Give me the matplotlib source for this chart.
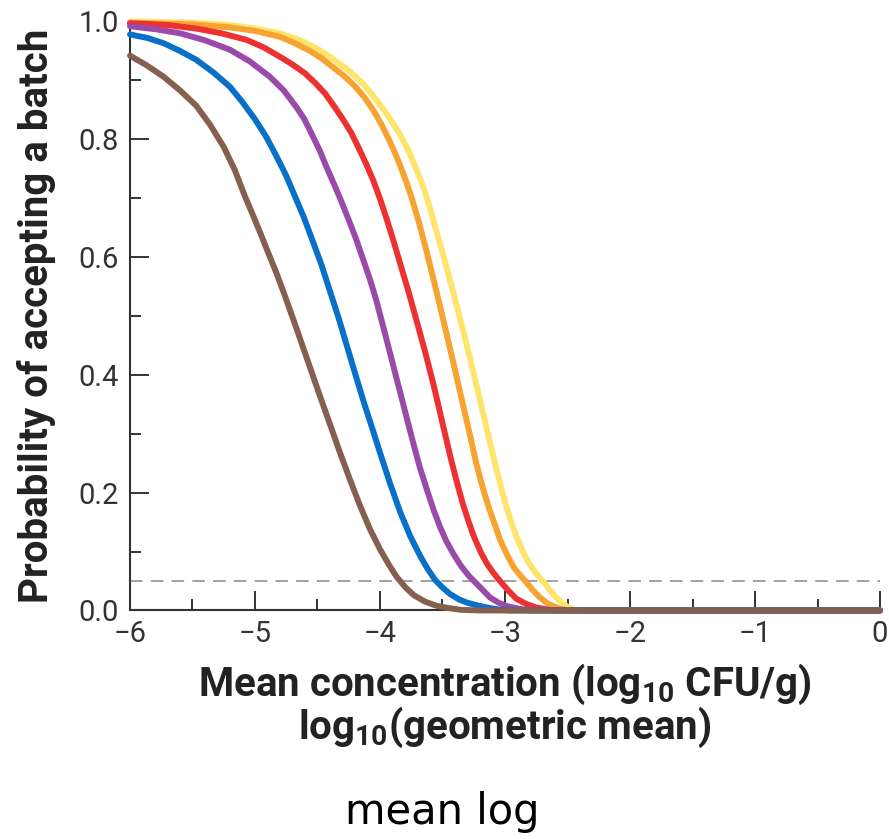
import matplotlib
matplotlib.use("Agg")
import matplotlib.pyplot as plt
from matplotlib.ticker import MultipleLocator

plt.rcParams['font.family'] = ['Roboto', 'DejaVu Sans']
plt.rcParams['mathtext.fontset'] = 'custom'
plt.rcParams['mathtext.rm'] = 'Roboto'
plt.rcParams['mathtext.bf'] = 'Roboto:bold'

# curves: (log10 mean concentration, P(accept))
yellow_x = [-6.0, -5.5, -5.2, -5.0, -4.8, -4.65, -4.51, -4.38, -4.24, -4.13, -4.03, -3.93,
            -3.84, -3.77, -3.71, -3.65, -3.60, -3.55, -3.49, -3.42, -3.36, -3.31, -3.27,
            -3.22, -3.18, -3.13, -3.08, -3.04, -3.0, -2.95, -2.91, -2.85, -2.80, -2.74,
            -2.69, -2.64, -2.59, -2.54, -2.5, -2.45, -2.4, 0.0]
yellow_y = [1.0, 0.998, 0.994, 0.988, 0.98, 0.969, 0.955, 0.937, 0.915, 0.893, 0.867, 0.838,
            0.808, 0.780, 0.750, 0.717, 0.683, 0.645, 0.600, 0.545, 0.496, 0.454, 0.419,
            0.375, 0.339, 0.294, 0.250, 0.216, 0.184, 0.150, 0.126, 0.097, 0.077, 0.060,
            0.048, 0.034, 0.022, 0.012, 0.006, 0.002, 0.0, 0.0]

orange_x = [-6.0, -5.5, -5.2, -5.0, -4.8, -4.68, -4.56, -4.47, -4.38, -4.29, -4.2, -4.12,
            -4.05, -3.99, -3.93, -3.88, -3.84, -3.79, -3.75, -3.69, -3.63, -3.56, -3.49,
            -3.42, -3.35, -3.29, -3.23, -3.18, -3.13, -3.08, -3.04, -2.98, -2.93, -2.88,
            -2.83, -2.78, -2.72, -2.66, -2.6, -2.54, -2.48, 0.0]
orange_y = [0.998, 0.995, 0.990, 0.984, 0.974, 0.963, 0.950, 0.938, 0.923, 0.908, 0.89, 0.87,
            0.848, 0.826, 0.80, 0.777, 0.756, 0.728, 0.703, 0.660, 0.612, 0.552, 0.490,
            0.427, 0.362, 0.307, 0.25, 0.21, 0.175, 0.145, 0.12, 0.093, 0.073, 0.06,
            0.048, 0.035, 0.022, 0.012, 0.006, 0.002, 0.0, 0.0]

red_x = [-6.0, -5.7, -5.47, -5.27, -5.07, -4.93, -4.80, -4.70, -4.60, -4.52, -4.44, -4.37,
         -4.30, -4.23, -4.17, -4.11, -4.05, -4.0, -3.95, -3.89, -3.84, -3.77, -3.71, -3.64,
         -3.57, -3.50, -3.43, -3.38, -3.34, -3.29, -3.25, -3.19, -3.14, -3.09, -3.04,
         -2.97, -2.91, -2.83, -2.75, -2.67, -2.6, 0.0]
red_y = [0.997, 0.994, 0.988, 0.980, 0.969, 0.956, 0.940, 0.927, 0.912, 0.896, 0.878, 0.857,
         0.835, 0.811, 0.785, 0.758, 0.728, 0.699, 0.667, 0.626, 0.590, 0.540, 0.494, 0.440,
         0.382, 0.318, 0.255, 0.214, 0.183, 0.150, 0.126, 0.097, 0.078, 0.063, 0.05, 0.033,
         0.02, 0.011, 0.005, 0.002, 0.0, 0.0]

purple_x = [-6.0, -5.8, -5.6, -5.4, -5.2, -5.04, -4.88, -4.77, -4.67, -4.61, -4.56, -4.48,
            -4.43, -4.37, -4.31, -4.25, -4.19, -4.14, -4.08, -4.03, -3.95, -3.87, -3.78,
            -3.73, -3.68, -3.62, -3.57, -3.52, -3.47, -3.41, -3.35, -3.29, -3.23, -3.17,
            -3.12, -3.05, -2.98, -2.89, -2.8, 0.0]
purple_y = [0.992, 0.987, 0.980, 0.968, 0.952, 0.932, 0.906, 0.883, 0.855, 0.836, 0.815, 0.78,
            0.754, 0.725, 0.695, 0.663, 0.630, 0.599, 0.562, 0.527, 0.462, 0.396, 0.322,
            0.281, 0.242, 0.202, 0.170, 0.142, 0.118, 0.095, 0.075, 0.059, 0.046, 0.033,
            0.022, 0.013, 0.007, 0.003, 0.0, 0.0]

blue_x = [-6.0, -5.86, -5.73, -5.6, -5.47, -5.33, -5.2, -5.1, -5.0, -4.91, -4.83, -4.75,
          -4.68, -4.61, -4.55, -4.47, -4.40, -4.33, -4.27, -4.2, -4.13, -4.06, -4.0, -3.92,
          -3.84, -3.76, -3.68, -3.62, -3.56, -3.50, -3.44, -3.37, -3.30, -3.21, -3.12,
          -3.03, -2.95, 0.0]
blue_y = [0.978, 0.972, 0.963, 0.950, 0.935, 0.913, 0.889, 0.863, 0.834, 0.804, 0.772, 0.738,
          0.703, 0.668, 0.634, 0.588, 0.542, 0.496, 0.453, 0.403, 0.354, 0.308, 0.268, 0.216,
          0.168, 0.127, 0.093, 0.071, 0.052, 0.039, 0.028, 0.019, 0.013, 0.008, 0.004,
          0.001, 0.0, 0.0]

brown_x = [-6.0, -5.87, -5.73, -5.6, -5.47, -5.36, -5.25, -5.16, -5.08, -5.01, -4.95, -4.89,
           -4.83, -4.75, -4.66, -4.58, -4.50, -4.41, -4.32, -4.24, -4.16, -4.08, -4.0, -3.93,
           -3.87, -3.80, -3.73, -3.64, -3.55, -3.45, -3.35, -3.2, 0.0]
brown_y = [0.942, 0.926, 0.906, 0.883, 0.857, 0.825, 0.787, 0.747, 0.703, 0.668, 0.637, 0.605,
           0.574, 0.528, 0.474, 0.425, 0.376, 0.322, 0.268, 0.222, 0.178, 0.138, 0.104, 0.078,
           0.058, 0.040, 0.026, 0.015, 0.008, 0.004, 0.001, 0.0, 0.0]

threshold = 0.05

curves = [
    (yellow_x, yellow_y, '#fde56b'),
    (orange_x, orange_y, '#f7a331'),
    (red_x, red_y, '#ec3131'),
    (purple_x, purple_y, '#9a4aa8'),
    (blue_x, blue_y, '#0870c8'),
    (brown_x, brown_y, '#86604f'),
]

fig = plt.figure(figsize=(8.89, 8.39), dpi=100)
ax = fig.add_axes([0.1462, 0.2724, 0.8437, 0.702])

ax.axhline(threshold, color='#9a9a9a', lw=1.3, ls=(0, (7, 4.5)), zorder=1)
for xs, ys, c in curves:
    ax.plot(xs, ys, color=c, lw=4.3, solid_capstyle='round', solid_joinstyle='round',
            clip_on=False, zorder=3)

ax.set_xlim(-6, 0)
ax.set_ylim(0, 1.0)
ax.xaxis.set_major_locator(MultipleLocator(1))
ax.xaxis.set_minor_locator(MultipleLocator(0.5))
ax.yaxis.set_major_locator(MultipleLocator(0.2))
ax.yaxis.set_minor_locator(MultipleLocator(0.1))
ax.yaxis.set_major_formatter(plt.FuncFormatter(lambda v, p: f'{v:.1f}'))

for side in ['top', 'right']:
    ax.spines[side].set_visible(False)
for side in ['left', 'bottom']:
    ax.spines[side].set_linewidth(1.5)
    ax.spines[side].set_color('#333333')

ax.tick_params(which='major', direction='in', length=14, width=1.4, color='#333333',
               labelsize=21, labelcolor='#333333')
ax.tick_params(which='minor', direction='in', length=8, width=1.4, color='#333333')
ax.tick_params(axis='x', which='major', pad=7)
ax.tick_params(axis='y', which='major', pad=8)

ax.set_ylabel('Probability of accepting a batch', fontsize=29, fontweight='bold',
              color='#222222', labelpad=16)
ax.set_xlabel('Mean concentration (log$_{\\mathbf{10}}$ CFU/g)\nlog$_{\\mathbf{10}}$(geometric mean)',
              fontsize=29, fontweight='bold', color='#222222', labelpad=10, linespacing=0.92)

fig.text(0.498, 0.032, 'mean log', fontsize=30, family='DejaVu Sans', ha='center', va='center')

fig.savefig('out.png', dpi=100)
